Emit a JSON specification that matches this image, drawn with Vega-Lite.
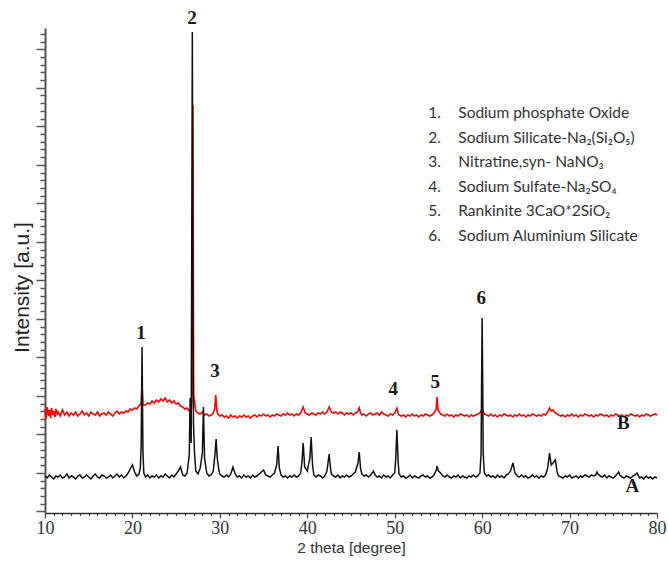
{
"$schema":"https://vega.github.io/schema/vega-lite/v6.json",
"width":612,"height":485,"autosize":"none",
"padding":{"left":45,"top":28,"right":11,"bottom":49},
"background":"white",
"config":{"view":{"stroke":null}},
"datasets":{
"A":[{"t":10,"v":37},{"t":10.25,"v":35},{"t":10.5,"v":38},{"t":10.75,"v":36},{"t":11,"v":34},{"t":11.25,"v":37},{"t":11.5,"v":36},{"t":11.75,"v":38},{"t":12,"v":35},{"t":12.25,"v":36},{"t":12.5,"v":39},{"t":12.75,"v":35},{"t":13,"v":37},{"t":13.25,"v":36},{"t":13.5,"v":34},{"t":13.75,"v":37},{"t":14,"v":38},{"t":14.25,"v":35},{"t":14.5,"v":36},{"t":14.75,"v":38},{"t":15,"v":36},{"t":15.25,"v":34},{"t":15.5,"v":37},{"t":15.75,"v":39},{"t":16,"v":36},{"t":16.25,"v":35},{"t":16.5,"v":38},{"t":16.75,"v":37},{"t":17,"v":35},{"t":17.25,"v":36},{"t":17.5,"v":38},{"t":17.75,"v":35},{"t":18,"v":37},{"t":18.25,"v":39},{"t":18.5,"v":36},{"t":18.75,"v":38},{"t":19,"v":35},{"t":19.25,"v":37},{"t":19.5,"v":40},{"t":19.75,"v":44},{"t":20,"v":48},{"t":20.25,"v":41},{"t":20.5,"v":37},{"t":20.75,"v":39},{"t":20.9,"v":45},{"t":21,"v":66},{"t":21.1,"v":166},{"t":21.2,"v":62},{"t":21.3,"v":40},{"t":21.5,"v":36},{"t":21.75,"v":38},{"t":22,"v":35},{"t":22.25,"v":37},{"t":22.5,"v":36},{"t":22.75,"v":38},{"t":23,"v":35},{"t":23.25,"v":37},{"t":23.5,"v":36},{"t":23.75,"v":39},{"t":24,"v":37},{"t":24.25,"v":35},{"t":24.5,"v":38},{"t":24.75,"v":36},{"t":25,"v":39},{"t":25.25,"v":42},{"t":25.5,"v":46},{"t":25.75,"v":38},{"t":26,"v":37},{"t":26.25,"v":40},{"t":26.5,"v":58},{"t":26.6,"v":115},{"t":26.72,"v":70},{"t":26.85,"v":481},{"t":26.98,"v":90},{"t":27.1,"v":60},{"t":27.25,"v":42},{"t":27.5,"v":39},{"t":27.75,"v":45},{"t":28,"v":60},{"t":28.12,"v":106},{"t":28.25,"v":55},{"t":28.5,"v":40},{"t":28.75,"v":37},{"t":29,"v":38},{"t":29.25,"v":42},{"t":29.45,"v":60},{"t":29.57,"v":74},{"t":29.7,"v":55},{"t":29.9,"v":42},{"t":30,"v":39},{"t":30.25,"v":37},{"t":30.5,"v":36},{"t":30.75,"v":38},{"t":31,"v":36},{"t":31.25,"v":39},{"t":31.5,"v":46},{"t":31.75,"v":39},{"t":32,"v":36},{"t":32.25,"v":37},{"t":32.5,"v":35},{"t":32.75,"v":38},{"t":33,"v":36},{"t":33.25,"v":37},{"t":33.5,"v":35},{"t":33.75,"v":38},{"t":34,"v":36},{"t":34.25,"v":37},{"t":34.5,"v":39},{"t":34.75,"v":41},{"t":35,"v":43},{"t":35.25,"v":38},{"t":35.5,"v":37},{"t":35.75,"v":36},{"t":36,"v":38},{"t":36.25,"v":40},{"t":36.5,"v":48},{"t":36.66,"v":67},{"t":36.8,"v":45},{"t":37,"v":38},{"t":37.25,"v":36},{"t":37.5,"v":37},{"t":37.75,"v":35},{"t":38,"v":37},{"t":38.25,"v":36},{"t":38.5,"v":38},{"t":38.75,"v":36},{"t":39,"v":37},{"t":39.25,"v":40},{"t":39.4,"v":52},{"t":39.53,"v":70},{"t":39.7,"v":46},{"t":40,"v":42},{"t":40.3,"v":55},{"t":40.44,"v":76},{"t":40.6,"v":48},{"t":40.75,"v":38},{"t":41,"v":36},{"t":41.25,"v":38},{"t":41.5,"v":37},{"t":41.75,"v":35},{"t":42,"v":37},{"t":42.25,"v":42},{"t":42.5,"v":59},{"t":42.65,"v":45},{"t":42.75,"v":39},{"t":43,"v":37},{"t":43.25,"v":36},{"t":43.5,"v":38},{"t":43.75,"v":35},{"t":44,"v":37},{"t":44.25,"v":36},{"t":44.5,"v":38},{"t":44.75,"v":36},{"t":45,"v":37},{"t":45.25,"v":39},{"t":45.5,"v":41},{"t":45.8,"v":50},{"t":45.94,"v":61},{"t":46.1,"v":44},{"t":46.25,"v":39},{"t":46.5,"v":37},{"t":46.75,"v":38},{"t":47,"v":36},{"t":47.25,"v":38},{"t":47.57,"v":42},{"t":47.75,"v":38},{"t":48,"v":36},{"t":48.25,"v":37},{"t":48.5,"v":35},{"t":48.75,"v":38},{"t":49,"v":36},{"t":49.25,"v":37},{"t":49.5,"v":35},{"t":49.75,"v":38},{"t":50,"v":40},{"t":50.12,"v":55},{"t":50.25,"v":83},{"t":50.4,"v":50},{"t":50.5,"v":39},{"t":50.75,"v":36},{"t":51,"v":37},{"t":51.25,"v":35},{"t":51.5,"v":36},{"t":51.75,"v":38},{"t":52,"v":35},{"t":52.25,"v":37},{"t":52.5,"v":36},{"t":52.75,"v":35},{"t":53,"v":37},{"t":53.25,"v":38},{"t":53.5,"v":36},{"t":53.75,"v":37},{"t":54,"v":35},{"t":54.25,"v":36},{"t":54.5,"v":38},{"t":54.75,"v":43},{"t":54.83,"v":47},{"t":55,"v":42},{"t":55.25,"v":40},{"t":55.5,"v":37},{"t":55.75,"v":36},{"t":56,"v":38},{"t":56.25,"v":36},{"t":56.5,"v":35},{"t":56.75,"v":37},{"t":57,"v":36},{"t":57.25,"v":38},{"t":57.5,"v":35},{"t":57.75,"v":37},{"t":58,"v":36},{"t":58.25,"v":35},{"t":58.5,"v":37},{"t":58.75,"v":36},{"t":59,"v":38},{"t":59.25,"v":36},{"t":59.5,"v":37},{"t":59.75,"v":40},{"t":59.88,"v":60},{"t":59.94,"v":133},{"t":60,"v":195},{"t":60.06,"v":133},{"t":60.12,"v":60},{"t":60.25,"v":40},{"t":60.5,"v":37},{"t":60.75,"v":38},{"t":61,"v":36},{"t":61.25,"v":37},{"t":61.5,"v":35},{"t":61.75,"v":38},{"t":62,"v":36},{"t":62.25,"v":37},{"t":62.5,"v":35},{"t":62.75,"v":38},{"t":63,"v":39},{"t":63.25,"v":42},{"t":63.52,"v":50},{"t":63.75,"v":40},{"t":64,"v":37},{"t":64.25,"v":36},{"t":64.5,"v":38},{"t":64.75,"v":36},{"t":65,"v":37},{"t":65.25,"v":35},{"t":65.5,"v":36},{"t":65.75,"v":38},{"t":66,"v":36},{"t":66.25,"v":37},{"t":66.5,"v":35},{"t":66.75,"v":37},{"t":67,"v":36},{"t":67.25,"v":38},{"t":67.5,"v":45},{"t":67.71,"v":60},{"t":67.9,"v":48},{"t":68.1,"v":50},{"t":68.37,"v":53},{"t":68.6,"v":40},{"t":68.75,"v":37},{"t":69,"v":36},{"t":69.25,"v":35},{"t":69.5,"v":37},{"t":69.75,"v":36},{"t":70,"v":38},{"t":70.25,"v":35},{"t":70.5,"v":36},{"t":70.75,"v":37},{"t":71,"v":35},{"t":71.25,"v":37},{"t":71.5,"v":36},{"t":71.75,"v":38},{"t":72,"v":37},{"t":72.25,"v":36},{"t":72.5,"v":38},{"t":72.75,"v":37},{"t":73,"v":38},{"t":73.14,"v":41},{"t":73.25,"v":39},{"t":73.5,"v":37},{"t":73.75,"v":36},{"t":74,"v":38},{"t":74.25,"v":35},{"t":74.5,"v":37},{"t":74.75,"v":36},{"t":75,"v":35},{"t":75.25,"v":37},{"t":75.61,"v":41},{"t":75.75,"v":38},{"t":76,"v":36},{"t":76.25,"v":35},{"t":76.5,"v":37},{"t":76.75,"v":36},{"t":77,"v":35},{"t":77.25,"v":37},{"t":77.5,"v":38},{"t":77.7,"v":40},{"t":77.9,"v":37},{"t":78,"v":35},{"t":78.25,"v":36},{"t":78.5,"v":34},{"t":78.75,"v":37},{"t":79,"v":35},{"t":79.25,"v":36},{"t":79.5,"v":34},{"t":79.75,"v":36},{"t":80,"v":35}],
"B":[{"t":10,"v":104},{"t":10.1,"v":94},{"t":10.25,"v":106},{"t":10.4,"v":97},{"t":10.5,"v":103},{"t":10.65,"v":95},{"t":10.75,"v":105},{"t":10.9,"v":98},{"t":11,"v":102},{"t":11.15,"v":96},{"t":11.25,"v":104},{"t":11.4,"v":99},{"t":11.5,"v":101},{"t":11.75,"v":97},{"t":12,"v":103},{"t":12.25,"v":98},{"t":12.5,"v":101},{"t":12.75,"v":97},{"t":13,"v":100},{"t":13.25,"v":98},{"t":13.5,"v":101},{"t":13.75,"v":97},{"t":14,"v":99},{"t":14.25,"v":102},{"t":14.5,"v":98},{"t":14.75,"v":100},{"t":15,"v":97},{"t":15.25,"v":101},{"t":15.5,"v":99},{"t":15.75,"v":98},{"t":16,"v":101},{"t":16.25,"v":97},{"t":16.5,"v":99},{"t":16.75,"v":100},{"t":17,"v":98},{"t":17.25,"v":101},{"t":17.5,"v":99},{"t":17.75,"v":97},{"t":18,"v":100},{"t":18.25,"v":102},{"t":18.5,"v":99},{"t":18.75,"v":101},{"t":19,"v":100},{"t":19.25,"v":102},{"t":19.5,"v":101},{"t":19.75,"v":104},{"t":20,"v":103},{"t":20.25,"v":105},{"t":20.5,"v":104},{"t":20.75,"v":107},{"t":21,"v":110},{"t":21.1,"v":128},{"t":21.2,"v":108},{"t":21.5,"v":108},{"t":21.75,"v":110},{"t":22,"v":109},{"t":22.25,"v":112},{"t":22.5,"v":110},{"t":22.75,"v":113},{"t":23,"v":111},{"t":23.25,"v":114},{"t":23.5,"v":112},{"t":23.75,"v":115},{"t":24,"v":111},{"t":24.25,"v":113},{"t":24.5,"v":110},{"t":24.75,"v":112},{"t":25,"v":109},{"t":25.25,"v":110},{"t":25.5,"v":107},{"t":25.75,"v":106},{"t":26,"v":104},{"t":26.25,"v":105},{"t":26.5,"v":102},{"t":26.75,"v":104},{"t":26.85,"v":120},{"t":26.92,"v":408},{"t":27,"v":118},{"t":27.25,"v":102},{"t":27.5,"v":100},{"t":27.75,"v":99},{"t":28,"v":101},{"t":28.25,"v":98},{"t":28.5,"v":99},{"t":28.75,"v":97},{"t":29,"v":98},{"t":29.25,"v":100},{"t":29.4,"v":104},{"t":29.53,"v":118},{"t":29.65,"v":103},{"t":29.75,"v":99},{"t":30,"v":97},{"t":30.25,"v":98},{"t":30.5,"v":96},{"t":30.75,"v":97},{"t":31,"v":95},{"t":31.25,"v":98},{"t":31.5,"v":96},{"t":31.75,"v":97},{"t":32,"v":95},{"t":32.25,"v":97},{"t":32.5,"v":96},{"t":32.75,"v":98},{"t":33,"v":96},{"t":33.25,"v":97},{"t":33.5,"v":95},{"t":33.75,"v":97},{"t":34,"v":98},{"t":34.25,"v":96},{"t":34.5,"v":98},{"t":34.75,"v":97},{"t":35,"v":99},{"t":35.25,"v":97},{"t":35.5,"v":98},{"t":35.75,"v":96},{"t":36,"v":98},{"t":36.25,"v":97},{"t":36.5,"v":99},{"t":36.75,"v":98},{"t":37,"v":97},{"t":37.25,"v":99},{"t":37.5,"v":98},{"t":37.75,"v":100},{"t":38,"v":98},{"t":38.25,"v":99},{"t":38.5,"v":97},{"t":38.75,"v":99},{"t":39,"v":98},{"t":39.25,"v":100},{"t":39.53,"v":106},{"t":39.75,"v":100},{"t":40,"v":99},{"t":40.25,"v":98},{"t":40.5,"v":100},{"t":40.75,"v":99},{"t":41,"v":98},{"t":41.25,"v":100},{"t":41.5,"v":99},{"t":41.75,"v":101},{"t":42,"v":99},{"t":42.25,"v":101},{"t":42.5,"v":106},{"t":42.75,"v":101},{"t":43,"v":100},{"t":43.25,"v":101},{"t":43.5,"v":99},{"t":43.75,"v":101},{"t":44,"v":100},{"t":44.25,"v":98},{"t":44.5,"v":100},{"t":44.75,"v":99},{"t":45,"v":100},{"t":45.25,"v":98},{"t":45.5,"v":100},{"t":45.75,"v":101},{"t":45.94,"v":105},{"t":46.1,"v":100},{"t":46.25,"v":98},{"t":46.5,"v":99},{"t":46.75,"v":97},{"t":47,"v":99},{"t":47.25,"v":100},{"t":47.5,"v":98},{"t":47.75,"v":99},{"t":48,"v":100},{"t":48.25,"v":98},{"t":48.53,"v":101},{"t":48.75,"v":99},{"t":49,"v":98},{"t":49.25,"v":97},{"t":49.5,"v":99},{"t":49.75,"v":98},{"t":50,"v":100},{"t":50.25,"v":105},{"t":50.4,"v":99},{"t":50.5,"v":98},{"t":50.75,"v":97},{"t":51,"v":98},{"t":51.25,"v":96},{"t":51.5,"v":98},{"t":51.75,"v":97},{"t":52,"v":99},{"t":52.25,"v":97},{"t":52.5,"v":98},{"t":52.75,"v":96},{"t":53,"v":98},{"t":53.25,"v":97},{"t":53.5,"v":99},{"t":53.75,"v":98},{"t":54,"v":97},{"t":54.25,"v":98},{"t":54.5,"v":100},{"t":54.75,"v":104},{"t":54.83,"v":116},{"t":54.95,"v":103},{"t":55.25,"v":99},{"t":55.5,"v":98},{"t":55.75,"v":97},{"t":56,"v":99},{"t":56.25,"v":97},{"t":56.5,"v":98},{"t":56.75,"v":96},{"t":57,"v":98},{"t":57.25,"v":97},{"t":57.5,"v":99},{"t":57.75,"v":98},{"t":58,"v":97},{"t":58.25,"v":98},{"t":58.5,"v":96},{"t":58.75,"v":98},{"t":59,"v":97},{"t":59.25,"v":98},{"t":59.5,"v":99},{"t":59.75,"v":100},{"t":60,"v":104},{"t":60.25,"v":99},{"t":60.5,"v":98},{"t":60.75,"v":97},{"t":61,"v":99},{"t":61.25,"v":97},{"t":61.5,"v":98},{"t":61.75,"v":96},{"t":62,"v":98},{"t":62.25,"v":97},{"t":62.5,"v":99},{"t":62.75,"v":98},{"t":63,"v":97},{"t":63.25,"v":98},{"t":63.5,"v":96},{"t":63.75,"v":98},{"t":64,"v":97},{"t":64.25,"v":99},{"t":64.5,"v":97},{"t":64.75,"v":98},{"t":65,"v":96},{"t":65.25,"v":98},{"t":65.5,"v":97},{"t":65.75,"v":99},{"t":66,"v":98},{"t":66.25,"v":97},{"t":66.5,"v":98},{"t":66.75,"v":97},{"t":67,"v":99},{"t":67.25,"v":98},{"t":67.5,"v":101},{"t":67.71,"v":105},{"t":67.9,"v":102},{"t":68.1,"v":103},{"t":68.37,"v":100},{"t":68.6,"v":99},{"t":68.75,"v":98},{"t":69,"v":97},{"t":69.25,"v":98},{"t":69.5,"v":96},{"t":69.75,"v":98},{"t":70,"v":97},{"t":70.25,"v":99},{"t":70.5,"v":97},{"t":70.75,"v":98},{"t":71,"v":96},{"t":71.25,"v":98},{"t":71.5,"v":97},{"t":71.75,"v":99},{"t":72,"v":98},{"t":72.25,"v":97},{"t":72.5,"v":98},{"t":72.75,"v":96},{"t":73,"v":98},{"t":73.25,"v":97},{"t":73.5,"v":99},{"t":73.75,"v":98},{"t":74,"v":97},{"t":74.25,"v":98},{"t":74.5,"v":96},{"t":74.75,"v":98},{"t":75,"v":97},{"t":75.25,"v":99},{"t":75.5,"v":98},{"t":75.75,"v":97},{"t":76,"v":98},{"t":76.25,"v":96},{"t":76.5,"v":98},{"t":76.75,"v":97},{"t":77,"v":99},{"t":77.25,"v":98},{"t":77.5,"v":97},{"t":77.75,"v":98},{"t":78,"v":96},{"t":78.25,"v":98},{"t":78.5,"v":97},{"t":78.75,"v":99},{"t":79,"v":98},{"t":79.25,"v":97},{"t":79.5,"v":98},{"t":79.75,"v":99},{"t":80,"v":98}],
"peaks":[{"label":"1","t":20.99,"v":180},{"label":"2","t":26.82,"v":495},{"label":"3","t":29.45,"v":142},{"label":"4","t":49.83,"v":124},{"label":"5","t":54.63,"v":131},{"label":"6","t":59.9,"v":215},{"label":"B","t":76.15,"v":90},{"label":"A","t":77.18,"v":27}],
"legend":[{"n":"1.","name":"Sodium phosphate Oxide"},{"n":"2.","name":"Sodium Silicate-Na₂(Si₂O₅)"},{"n":"3.","name":"Nitratine,syn-  NaNO₃"},{"n":"4.","name":"Sodium Sulfate-Na₂SO₄"},{"n":"5.","name":"Rankinite 3CaO*2SiO₂"},{"n":"6.","name":"Sodium Aluminium Silicate"}]
},
"layer":[
{"encoding":{
  "x":{"field":"t","type":"quantitative","scale":{"domain":[10,80],"nice":false,"zero":false},
    "axis":{"title":"2 theta [degree]","titleFont":"Liberation Sans","titleFontSize":15.5,"titleFontWeight":"normal","titleColor":"#333","titlePadding":3,
      "values":[10,11,12,13,14,15,16,17,18,19,20,21,22,23,24,25,26,27,28,29,30,31,32,33,34,35,36,37,38,39,40,41,42,43,44,45,46,47,48,49,50,51,52,53,54,55,56,57,58,59,60,61,62,63,64,65,66,67,68,69,70,71,72,73,74,75,76,77,78,79,80],
      "labelExpr":"datum.value % 10 === 0 ? datum.label : ''","labelOverlap":false,"labelFlush":false,"labelBound":false,
      "labelFont":"Liberation Serif","labelFontSize":18,"labelColor":"#333","labelPadding":1,
      "domain":true,"domainColor":"#333","domainWidth":1.5,"tickColor":"#444","tickWidth":1.2,
      "tickSize":{"condition":{"test":"datum.value % 10 === 0","value":5},"value":2.5},"grid":false}},
  "y":{"field":"v","type":"quantitative","scale":{"domain":[0,485],"nice":false,"zero":false},
    "axis":{"title":"Intensity [a.u.]","titleFont":"Liberation Sans","titleFontSize":21,"titleFontWeight":"normal","titleColor":"#222",
      "titleX":-17,"titleY":259,"titleAlign":"center","titleBaseline":"alphabetic","titleAngle":-90,
      "values":[1.7,9.4,17.1,24.8,32.5,40.2,47.9,55.6,63.3,71.0,78.7,86.4,94.1,101.8,109.5,117.2,124.9,132.6,140.3,148.0,155.7,163.4,171.1,178.8,186.5,194.2,201.9,209.6,217.3,225.0,232.7,240.4,248.1,255.8,263.5,271.2,278.9,286.6,294.3,302.0,309.7,317.4,325.1,332.8,340.5,348.2,355.9,363.6,371.3,379.0,386.7,394.4,402.1,409.8,417.5,425.2,432.9,440.6,448.3,456.0,463.7,471.4,479.1],
      "labels":false,"domain":true,"domainColor":"#555","domainWidth":2,"tickColor":"#555","tickWidth":1.5,
      "tickSize":{"condition":{"test":"abs((463.7 - datum.value)/38.5 - round((463.7 - datum.value)/38.5)) < 0.05","value":9},"value":5},"grid":false}}
 },
 "layer":[
  {"data":{"name":"B"},"mark":{"type":"line","color":"#ff0000","strokeWidth":1.6}},
  {"data":{"name":"A"},"mark":{"type":"line","color":"#111111","strokeWidth":1.5}},
  {"data":{"name":"peaks"},"mark":{"type":"text","font":"Liberation Serif","fontWeight":"bold","fontSize":19,"color":"#1a1a1a","baseline":"middle","align":"center"},"encoding":{"text":{"field":"label"}}}
 ]},
{"data":{"name":"legend"},
 "encoding":{"y":{"field":"n","type":"ordinal","scale":{"type":"point","range":[85,208],"padding":0},"axis":null}},
 "layer":[
  {"mark":{"type":"text","font":"Lato","fontSize":15.5,"color":"#333","align":"left","baseline":"middle"},"encoding":{"x":{"datum":53.83,"type":"quantitative","axis":null},"text":{"field":"n"}}},
  {"mark":{"type":"text","font":"Lato","fontSize":15.5,"color":"#333","align":"left","baseline":"middle"},"encoding":{"x":{"datum":57.27,"type":"quantitative","axis":null},"text":{"field":"name"}}}
 ]}
],
"resolve":{"scale":{"y":"independent"},"axis":{"x":"independent"}}
}
